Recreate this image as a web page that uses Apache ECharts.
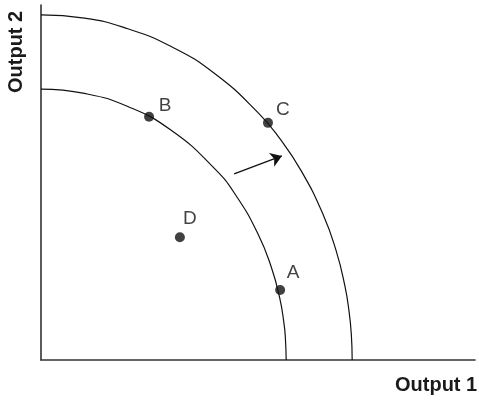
<!DOCTYPE html>
<html>
<head>
<meta charset="utf-8">
<script src="https://cdn.jsdelivr.net/npm/echarts@6/dist/echarts.min.js"></script>
<style>
  html, body { margin: 0; padding: 0; background: #fff; }
  #main { width: 479px; height: 400px; }
</style>
</head>
<body>
<div id="main"></div>
<script>
// 读图得到的曲线点（Output 1, Output 2）
var innerCurve = [
  [0, 76.3], [10, 75.1], [20, 71.4], [30, 64.7], [40, 53.9], [45, 46.2],
  [50, 35.5], [53, 26.4], [55, 17.5], [56, 10.2], [56.3, 6.4], [56.5, 0]
]
var outerCurve = [
  [0, 97.2], [10, 96.3], [20, 93.3], [30, 88.3], [40, 80.7], [50, 69.7],
  [55, 62.4], [60, 53.2], [65, 41.0], [68, 30.8], [70, 21.0], [71, 13.5],
  [71.5, 7.3], [71.7, 0]
]
// 标注点
var pointNames = ['B', 'C', 'D', 'A']
var pointValues = [[24.9, 68.5], [52.3, 66.8], [32.0, 34.6], [55.1, 19.7]]
// 箭头起止
var arrowCoords = [[44.5, 52.4], [55.5, 57.5]]

var labelOffsets = [[16, -11], [15, -13], [10, -18], [13, -17]]

var myChart = echarts.init(document.getElementById('main'))

var curveStyle = { color: '#111', width: 1.2 }

myChart.setOption({
  animation: false,
  grid: { left: 41, right: 4, top: 5, bottom: 40 },
  xAxis: {
    type: 'value',
    min: 0,
    max: 100,
    axisLine: { lineStyle: { color: '#333', width: 1.6 } },
    axisTick: { show: false },
    axisLabel: { show: false },
    splitLine: { show: false }
  },
  yAxis: {
    type: 'value',
    min: 0,
    max: 100,
    axisLine: { show: true, lineStyle: { color: '#333', width: 1.6 } },
    axisTick: { show: false },
    axisLabel: { show: false },
    splitLine: { show: false }
  },
  graphic: [
    {
      type: 'text',
      left: 395,
      top: 375,
      style: { text: 'Output 1', font: 'bold 20px "Liberation Sans", Arial', fill: '#1a1a1a' }
    },
    {
      type: 'text',
      x: 6,
      y: 93,
      rotation: Math.PI / 2,
      style: { text: 'Output 2', font: 'bold 20px "Liberation Sans", Arial', fill: '#1a1a1a' }
    }
  ],
  series: [
    {
      type: 'line',
      data: innerCurve,
      smooth: true,
      showSymbol: false,
      lineStyle: curveStyle
    },
    {
      type: 'line',
      data: outerCurve,
      smooth: true,
      showSymbol: false,
      lineStyle: curveStyle
    },
    {
      type: 'scatter',
      symbolSize: 10,
      itemStyle: { color: '#111' },
      data: pointNames.map(function (n, i) {
        return {
          name: n,
          value: pointValues[i],
          label: {
            show: true,
            formatter: n,
            position: 'inside',
            offset: labelOffsets[i],
            color: '#111',
            fontSize: 19,
            fontFamily: '"Liberation Sans", Arial'
          }
        }
      })
    },
    {
      type: 'lines',
      coordinateSystem: 'cartesian2d',
      symbol: ['none', 'arrow'],
      symbolSize: 11,
      lineStyle: { color: '#111', width: 1.3, opacity: 1 },
      data: [{ coords: arrowCoords }]
    }
  ]
})
</script>
</body>
</html>
